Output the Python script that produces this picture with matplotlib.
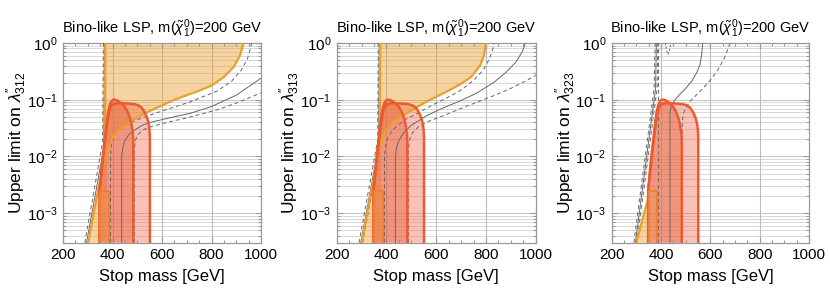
import numpy as np
import matplotlib
matplotlib.use("Agg")
import matplotlib.pyplot as plt
from matplotlib.ticker import LogLocator, MultipleLocator, FixedLocator, NullFormatter, LogFormatterMathtext

plt.rcParams['font.family'] = ['Liberation Sans', 'DejaVu Sans']
plt.rcParams['mathtext.fontset'] = 'custom'
plt.rcParams['mathtext.rm'] = 'Liberation Sans'
plt.rcParams['mathtext.it'] = 'Liberation Sans:italic'
plt.rcParams['mathtext.bf'] = 'Liberation Sans:bold'

# ---------------- data (mass in GeV, coupling values as log10) ----------------
XMIN, XMAX = 200, 1000
YMIN_LOG, YMAX_LOG = -3.52, 0.0
XTICKS = [200, 400, 600, 800, 1000]
COUPLINGS = ['312', '313', '323']
TITLE = r'Bino-like LSP, m($\tilde{\chi}^0_1$)=200 GeV'
XLABEL = 'Stop mass [GeV]'

# shared red regions
REGION_A_M = [348, 348, 358, 368, 378, 386, 393, 402, 415, 430, 450, 470, 490, 505, 518, 530, 540, 546, 549, 551, 551]
REGION_A_LOG = [-3.52, -2.6, -2.2, -1.8, -1.45, -1.22, -1.12, -1.08, -1.065, -1.06, -1.065, -1.07, -1.08, -1.1, -1.14, -1.22, -1.32, -1.42, -1.52, -1.65, -3.52]
REGION_B_M = [348, 348, 355, 362, 370, 377, 383, 390, 397, 403, 412, 422, 432, 442, 452, 462, 470, 476, 480, 483, 484, 484]
REGION_B_LOG = [-3.52, -2.6, -2.25, -1.95, -1.65, -1.38, -1.2, -1.08, -1.02, -1.0, -1.0, -1.02, -1.05, -1.09, -1.14, -1.22, -1.32, -1.42, -1.52, -1.62, -1.75, -3.52]
RECT_M = [350, 385]
RECT_LOG = [-3.52, -2.6]

# orange excluded regions
P1_OR_LEFT_M = [302, 335, 360, 370, 371]
P1_OR_LEFT_LOG = [-3.52, -2.75, -2.2, -1.95, 0.0]
P1_OR_CURVE_M = [377, 385, 395, 410, 430, 460, 500, 550, 600, 650, 700, 750, 800, 850, 890, 915, 930]
P1_OR_CURVE_LOG = [-1.98, -1.85, -1.72, -1.6, -1.52, -1.42, -1.31, -1.2, -1.1, -1.0, -0.92, -0.84, -0.75, -0.6, -0.42, -0.22, 0.0]

P2_OR_LEFT_M = [300, 335, 360, 374, 375]
P2_OR_LEFT_LOG = [-3.52, -2.7, -2.15, -1.8, 0.0]
P2_OR_CURVE_M = [378, 385, 395, 414, 440, 468, 508, 550, 590, 640, 696, 740, 776, 792, 800]
P2_OR_CURVE_LOG = [-1.77, -1.66, -1.56, -1.45, -1.35, -1.27, -1.17, -1.06, -0.97, -0.86, -0.73, -0.6, -0.4, -0.22, 0.0]

P3_OR_LEFT_M = [300, 348]
P3_OR_LEFT_LOG = [-3.52, -2.73]
P3_OR_CURVE_M = [348]
P3_OR_CURVE_LOG = [-2.73]

# expected-limit lines: left branches (dashed, solid, dashed)
P1_LEFT_M = [[288, 360, 363], [295, 365, 367], [302, 369, 371]]
P1_LEFT_LOG = [[-3.52, -1.75, 0.0], [-3.52, -1.85, 0.0], [-3.52, -1.95, 0.0]]
P2_LEFT_M = [[290, 365, 367], [297, 369, 371], [304, 373, 375]]
P2_LEFT_LOG = [[-3.52, -1.7, 0.0], [-3.52, -1.8, 0.0], [-3.52, -1.9, 0.0]]
P3_LEFT_M = [[290, 372, 376], [296, 378, 381], [302, 384, 387]]
P3_LEFT_LOG = [[-3.52, -0.8, 0.0], [-3.52, -0.8, 0.0], [-3.52, -0.8, 0.0]]

# right branches: upper dashed, solid, lower dashed
P1_UP_M = [392, 392, 396, 405, 420, 450, 484, 552, 620, 713, 821, 880, 920, 945, 957, 962]
P1_UP_LOG = [-3.52, -2.0, -1.8, -1.65, -1.55, -1.45, -1.38, -1.27, -1.17, -1.04, -0.85, -0.68, -0.48, -0.28, -0.1, 0.0]
P1_MED_M = [437, 437, 441, 450, 465, 484, 520, 551, 620, 713, 800, 900, 1000]
P1_MED_LOG = [-3.52, -2.0, -1.85, -1.72, -1.62, -1.55, -1.45, -1.4, -1.33, -1.24, -1.12, -0.92, -0.62]
P1_LOW_M = [488, 488, 492, 505, 530, 560, 620, 700, 821, 900, 1000]
P1_LOW_LOG = [-3.52, -1.9, -1.72, -1.6, -1.52, -1.47, -1.4, -1.32, -1.18, -1.06, -0.88]

P2_UP_M = [392, 392, 396, 405, 420, 445, 480, 520, 560, 600, 650, 700, 750, 790, 815, 828, 832]
P2_UP_LOG = [-3.52, -2.0, -1.82, -1.68, -1.56, -1.45, -1.34, -1.25, -1.15, -1.06, -0.95, -0.83, -0.66, -0.47, -0.27, -0.1, 0.0]
P2_MED_M = [436, 436, 440, 450, 470, 500, 562, 620, 696, 760, 830, 880, 920, 945, 955, 958]
P2_MED_LOG = [-3.52, -2.0, -1.85, -1.72, -1.58, -1.45, -1.28, -1.16, -1.02, -0.89, -0.7, -0.52, -0.34, -0.16, -0.05, 0.0]
P2_LOW_M = [488, 488, 492, 505, 530, 570, 629, 696, 760, 830, 900, 960, 1000]
P2_LOW_LOG = [-3.52, -1.9, -1.72, -1.58, -1.47, -1.38, -1.28, -1.16, -1.05, -0.93, -0.8, -0.67, -0.57]

P3_UP_M = [389, 389]
P3_UP_LOG = [-3.52, 0.0]
P3_MED_M = [436, 436, 439, 447, 460, 477, 500, 525, 545, 558, 565, 569]
P3_MED_LOG = [-3.52, -1.25, -1.15, -1.06, -0.98, -0.9, -0.8, -0.67, -0.52, -0.38, -0.2, 0.0]
P3_LOW_M = [486, 486, 490, 500, 517, 540, 570, 599, 630, 655, 670, 680]
P3_LOW_LOG = [-3.52, -1.4, -1.25, -1.15, -1.03, -0.93, -0.8, -0.66, -0.48, -0.28, -0.12, 0.0]
P3_ISLAND_M = [418, 422, 428, 435, 440]
P3_ISLAND_LOG = [0.0, -0.12, -0.2, -0.12, 0.0]

PANELS = [
    dict(left_m=P1_OR_LEFT_M, left_log=P1_OR_LEFT_LOG, curve_m=P1_OR_CURVE_M, curve_log=P1_OR_CURVE_LOG,
         gl_m=P1_LEFT_M, gl_log=P1_LEFT_LOG, up=(P1_UP_M, P1_UP_LOG), med=(P1_MED_M, P1_MED_LOG),
         low=(P1_LOW_M, P1_LOW_LOG), extra=None, closed_top=True),
    dict(left_m=P2_OR_LEFT_M, left_log=P2_OR_LEFT_LOG, curve_m=P2_OR_CURVE_M, curve_log=P2_OR_CURVE_LOG,
         gl_m=P2_LEFT_M, gl_log=P2_LEFT_LOG, up=(P2_UP_M, P2_UP_LOG), med=(P2_MED_M, P2_MED_LOG),
         low=(P2_LOW_M, P2_LOW_LOG), extra=None, closed_top=True),
    dict(left_m=P3_OR_LEFT_M, left_log=P3_OR_LEFT_LOG, curve_m=P3_OR_CURVE_M, curve_log=P3_OR_CURVE_LOG,
         gl_m=P3_LEFT_M, gl_log=P3_LEFT_LOG, up=(P3_UP_M, P3_UP_LOG), med=(P3_MED_M, P3_MED_LOG),
         low=(P3_LOW_M, P3_LOW_LOG), extra=(P3_ISLAND_M, P3_ISLAND_LOG), closed_top=False),
]

# ---------------- styles ----------------
ORANGE_EDGE = '#E9A02C'
ORANGE_FACE = '#E9A030'
RED_EDGE = '#EE5A30'
A_FACE = '#EE6A4A'
B_FACE = '#E8603A'
RECT_EDGE = '#F08030'
GRAY = '#666666'
FRAME = '#999999'

fig = plt.figure(figsize=(8.30, 3.01), dpi=100)
lefts = [63, 336.7, 611.7]
widths = [198, 199, 197.3]
top_px, bot_px = 43, 242.7
W, H = 830, 301


def p(v):
    return 10.0 ** np.asarray(v, dtype=float)


for i, (cp, pn) in enumerate(zip(COUPLINGS, PANELS)):
    ax = fig.add_axes([lefts[i] / W, 1 - bot_px / H, widths[i] / W, (bot_px - top_px) / H])
    ax.set_yscale('log')
    ax.set_xlim(XMIN, XMAX)
    ax.set_ylim(10 ** YMIN_LOG, 10 ** YMAX_LOG)

    # grid
    for yv in [k * 10.0 ** e for e in range(-4, 1) for k in range(1, 10)]:
        if 10 ** YMIN_LOG < yv < 1:
            major = abs(np.log10(yv) - round(np.log10(yv))) < 1e-9
            ax.axhline(yv, color='#c4c4c4' if major else '#d8d8d8', lw=0.7, zorder=0)
    for xv in XTICKS[1:-1]:
        ax.axvline(xv, color='#bcbcbc', lw=0.8, zorder=0)

    # orange region
    lm, ll = list(pn['left_m']), list(pn['left_log'])
    cm, cl = list(pn['curve_m']), list(pn['curve_log'])
    if pn['closed_top']:
        poly_m = lm + cm[::-1] + [cm[0], lm[0]]
        poly_l = ll + cl[::-1] + [YMIN_LOG, YMIN_LOG]
        ax.fill(poly_m, p(poly_l), color=ORANGE_FACE, alpha=0.45, lw=0, zorder=1)
        ax.plot(lm, p(ll), color=ORANGE_EDGE, lw=1.6, zorder=8, solid_joinstyle='round')
        ax.plot(cm, p(cl), color=ORANGE_EDGE, lw=1.6, zorder=8, solid_joinstyle='round')
    else:
        poly_m = lm + [lm[-1], lm[0]]
        poly_l = ll + [YMIN_LOG, YMIN_LOG]
        ax.fill(poly_m, p(poly_l), color=ORANGE_FACE, alpha=0.45, lw=0, zorder=1)
        ax.plot(lm, p(ll), color=ORANGE_EDGE, lw=1.6, zorder=8)

    # red regions
    ax.fill(REGION_A_M, p(REGION_A_LOG), facecolor=A_FACE, alpha=0.4, lw=0, zorder=2)
    ax.fill(REGION_B_M, p(REGION_B_LOG), facecolor=B_FACE, alpha=0.45, lw=0, zorder=3)
    ax.fill([RECT_M[0], RECT_M[0], RECT_M[1], RECT_M[1]],
            p([RECT_LOG[0], RECT_LOG[1], RECT_LOG[1], RECT_LOG[0]]),
            facecolor='#F09040', alpha=0.25, lw=0, zorder=4)

    # gray expected lines
    dash = (0, (4, 3))
    styles = ['--', '-', '--']
    for k in range(3):
        ax.plot(pn['gl_m'][k], p(pn['gl_log'][k]), color=GRAY, lw=0.7,
                linestyle=dash if styles[k] == '--' else '-', zorder=6)
    ax.plot(pn['up'][0], p(pn['up'][1]), color=GRAY, lw=0.7, linestyle=dash, zorder=6)
    ax.plot(pn['med'][0], p(pn['med'][1]), color=GRAY, lw=0.7, zorder=6)
    ax.plot(pn['low'][0], p(pn['low'][1]), color=GRAY, lw=0.7, linestyle=dash, zorder=6)
    if pn['extra'] is not None:
        ax.plot(pn['extra'][0], p(pn['extra'][1]), color=GRAY, lw=0.7, linestyle=(0, (2, 2)), zorder=6)

    # outlines
    ax.plot(REGION_A_M, p(REGION_A_LOG), color=RED_EDGE, lw=1.8, zorder=9, solid_joinstyle='round')
    ax.plot(REGION_B_M, p(REGION_B_LOG), color=RED_EDGE, lw=1.8, zorder=9, solid_joinstyle='round')
    ax.plot([RECT_M[0], RECT_M[0], RECT_M[1], RECT_M[1]],
            p([RECT_LOG[0], RECT_LOG[1], RECT_LOG[1], RECT_LOG[0]]),
            color=RECT_EDGE, lw=1.6, zorder=9)

    # axes styling
    ax.xaxis.set_major_locator(FixedLocator(XTICKS))
    ax.xaxis.set_minor_locator(MultipleLocator(50))
    ax.yaxis.set_major_locator(LogLocator(base=10, numticks=10))
    ax.yaxis.set_minor_locator(LogLocator(base=10, subs=np.arange(2, 10), numticks=20))
    ax.yaxis.set_major_formatter(LogFormatterMathtext())
    ax.yaxis.set_minor_formatter(NullFormatter())
    ax.tick_params(which='both', direction='in', top=True, right=True, color=FRAME,
                   labelsize=11, labelcolor='black', width=0.8)
    ax.tick_params(which='major', length=4, pad=4)
    ax.tick_params(which='minor', length=2)
    for s in ax.spines.values():
        s.set_color(FRAME)
        s.set_linewidth(0.9)
    ax.set_xlabel(XLABEL, fontsize=12, labelpad=5)
    ax.set_ylabel(r'Upper limit on $\lambda^{\prime\prime}_{%s}$' % cp, fontsize=12.5)
    ax.yaxis.label.set_verticalalignment('center')
    ax.yaxis.set_label_coords(-0.235, 0.5)
    ax.set_title(TITLE, fontsize=10.5, pad=7)

fig.savefig('out.png', dpi=100)
